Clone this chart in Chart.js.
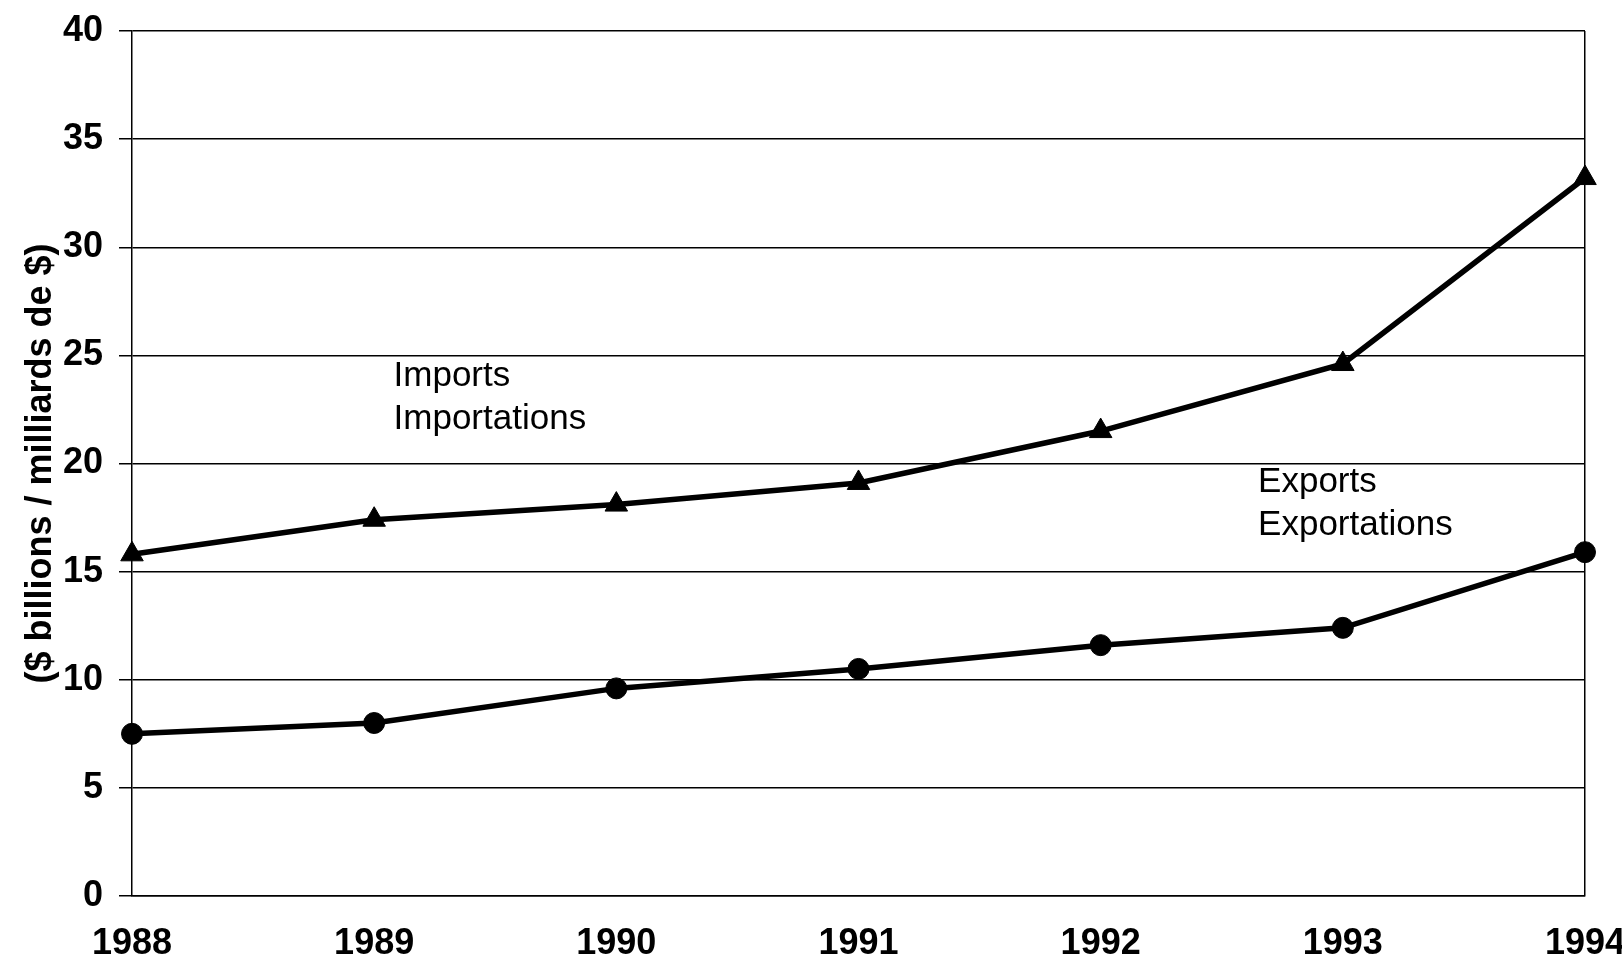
<!DOCTYPE html>
<html>
<head>
<meta charset="utf-8">
<script src="https://cdn.jsdelivr.net/npm/chart.js@4/dist/chart.umd.min.js"></script>
<style>
  html, body { margin: 0; padding: 0; background: #fff; }
  canvas { display: block; }
</style>
</head>
<body>
<canvas id="lineChart" width="1622" height="960"></canvas>
<script>
const years = ["1988", "1989", "1990", "1991", "1992", "1993", "1994"];
const imports = [15.8, 17.4, 18.1, 19.1, 21.5, 24.6, 33.2];
const exports = [7.5, 8.0, 9.6, 10.5, 11.6, 12.4, 15.9];
const yTicks = [0, 5, 10, 15, 20, 25, 30, 35, 40];

// series labels written inside the plot, anchored on the data scales
const seriesNotes = [
  { lines: ["Imports", "Importations"], at: [1.08, 23.6] },
  { lines: ["Exports", "Exportations"], at: [4.65, 18.7] },
];

const notesPlugin = {
  id: "notes",
  afterDraw(chart) {
    const { ctx, scales } = chart;
    ctx.save();
    ctx.fillStyle = "#000";
    ctx.font = "35px 'Liberation Sans', Arial, sans-serif";
    ctx.textAlign = "left";
    ctx.textBaseline = "alphabetic";
    seriesNotes.forEach((n) => {
      const x = scales.x.getPixelForValue(n.at[0]);
      const y = scales.y.getPixelForValue(n.at[1]);
      n.lines.forEach((t, i) => ctx.fillText(t, x, y + i * 43));
    });
    ctx.restore();
  },
};

const ctx = document.getElementById("lineChart").getContext("2d");

new Chart(ctx, {
  type: "line",
  data: {
    labels: years,
    datasets: [
      {
        label: "Imports",
        data: imports,
        borderColor: "#000",
        backgroundColor: "#000",
        borderWidth: 5.5,
        pointStyle: "triangle",
        pointRadius: 13,
        pointBorderWidth: 1,
        tension: 0,
        clip: false,
      },
      {
        label: "Exports",
        data: exports,
        borderColor: "#000",
        backgroundColor: "#000",
        borderWidth: 5.5,
        pointStyle: "circle",
        pointRadius: 10.5,
        pointBorderWidth: 1,
        tension: 0,
        clip: false,
      },
    ],
  },
  options: {
    responsive: false,
    animation: false,
    devicePixelRatio: 1,
    layout: { padding: { left: 0, right: 37, top: 31, bottom: 0 } },
    plugins: {
      legend: { display: false },
      tooltip: { enabled: false },
    },
    scales: {
      x: {
        offset: false,
        grid: {
          drawTicks: false,
          color: (c) => (c.index === years.length - 1 ? "#000" : "rgba(0,0,0,0)"),
          lineWidth: 1.5,
        },
        border: { display: true, color: "#000", width: 1.5 },
        ticks: {
          color: "#000",
          autoSkip: false,
          maxRotation: 0,
          padding: 26,
          font: { family: "'Liberation Sans', Arial, sans-serif", size: 36, weight: "bold" },
        },
        afterFit(scale) {
          scale.height = 64;
          // let the end labels hang past the plot edge instead of shrinking it
          scale.paddingLeft = 0;
          scale.paddingRight = 0;
        },
      },
      y: {
        min: 0,
        max: 40,
        afterBuildTicks(scale) { scale.ticks = yTicks.map((v) => ({ value: v })); },
        grid: { color: "#000", lineWidth: 1.5, tickLength: 13 },
        border: { display: true, color: "#000", width: 1.5 },
        ticks: {
          color: "#000",
          padding: 16,
          font: { family: "'Liberation Sans', Arial, sans-serif", size: 36, weight: "bold" },
        },
        title: {
          display: true,
          text: "($ billions / milliards de $)",
          color: "#000",
          padding: { top: 19, bottom: 0 },
          font: { family: "'Liberation Sans', Arial, sans-serif", size: 36, weight: "bold", lineHeight: 1.2 },
        },
        afterFit(scale) {
          scale.width = 132;
          scale.paddingTop = 0;
          scale.paddingBottom = 0;
        },
      },
    },
  },
  plugins: [notesPlugin],
});
</script>
</body>
</html>
